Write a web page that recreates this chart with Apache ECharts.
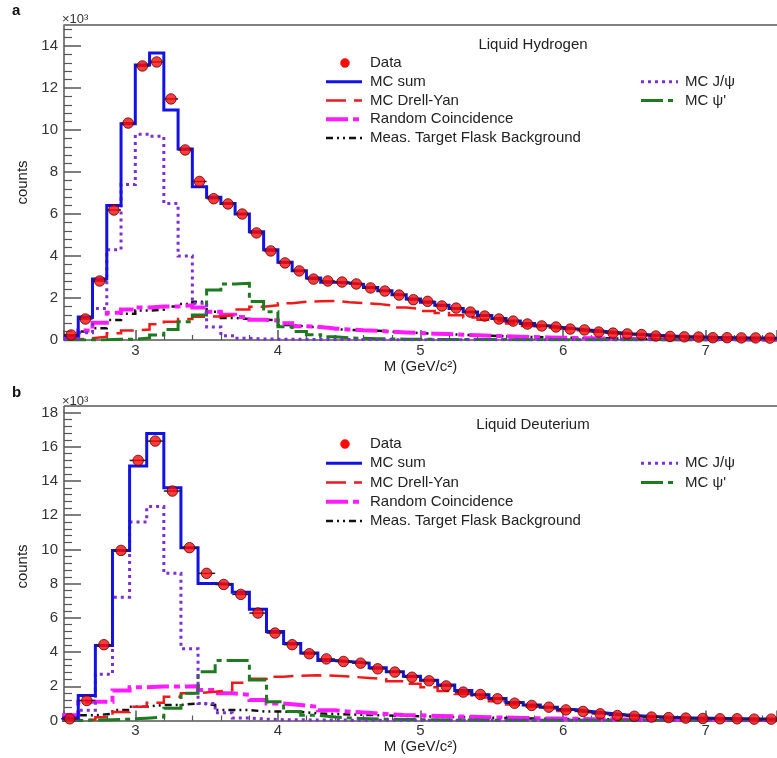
<!DOCTYPE html>
<html>
<head>
<meta charset="utf-8">
<script src="https://cdn.jsdelivr.net/npm/echarts@6/dist/echarts.min.js"></script>
<style>
  html, body { margin: 0; padding: 0; background: #fff; }
  #chart { width: 777px; height: 758px; }
</style>
</head>
<body>
<div id="chart"></div>
<script>
// Dimuon invariant-mass spectra; all counts are in units of 10^3 per bin.
const FONT = '"Liberation Sans", Arial, Helvetica, sans-serif';

// ---- Panel a: liquid hydrogen target (0.1 GeV bins starting at 2.5 GeV) ----
const binStartH = 2.5, binWidthH = 0.1;
const dataH = [0.24, 1.0, 2.81, 6.19, 10.33, 13.05, 13.24, 11.48, 9.05, 7.55,
  6.73, 6.48, 6.0, 5.1, 4.24, 3.67, 3.29, 2.9, 2.81, 2.76,
  2.67, 2.48, 2.33, 2.14, 1.92, 1.84, 1.62, 1.52, 1.33, 1.14,
  1.0, 0.9, 0.76, 0.67, 0.62, 0.52, 0.48, 0.38, 0.33, 0.29,
  0.26, 0.19, 0.17, 0.15, 0.14, 0.11, 0.11, 0.1, 0.1, 0.09];
const mcSumH = [0.2, 1.1, 2.9, 6.4, 10.3, 13.1, 13.67, 10.95, 9.1, 7.3,
  6.8, 6.5, 6.0, 5.15, 4.3, 3.7, 3.3, 2.95, 2.75, 2.72,
  2.65, 2.5, 2.35, 2.15, 1.95, 1.8, 1.65, 1.5, 1.33, 1.17,
  1.02, 0.9, 0.78, 0.68, 0.6, 0.53, 0.46, 0.4, 0.34, 0.29,
  0.25, 0.21, 0.18, 0.16, 0.14, 0.12, 0.11, 0.1, 0.09, 0.08];
const drellYanH = [0.03, 0.08, 0.16, 0.32, 0.45, 0.5, 0.75, 0.87, 1.0, 1.11,
  1.12, 1.19, 1.45, 1.58, 1.65, 1.75, 1.82, 1.85, 1.86, 1.8,
  1.76, 1.72, 1.65, 1.55, 1.48, 1.38, 1.28, 1.18, 1.07, 0.97,
  0.88, 0.78, 0.67, 0.59, 0.53, 0.46, 0.41, 0.34, 0.3, 0.26,
  0.22, 0.18, 0.16, 0.14, 0.12, 0.1, 0.1, 0.09, 0.08, 0.07];
const randomH = [0.1, 0.45, 0.82, 1.3, 1.45, 1.55, 1.59, 1.6, 1.65, 1.55,
  1.35, 1.2, 1.1, 0.97, 0.93, 0.8, 0.66, 0.62, 0.55, 0.5,
  0.46, 0.44, 0.4, 0.36, 0.33, 0.3, 0.28, 0.25, 0.23, 0.2,
  0.18, 0.16, 0.14, 0.12, 0.11, 0.09, 0.08, 0.07, 0.06, 0.05,
  0.05, 0.04, 0.03, 0.03, 0.03, 0.02, 0.02, 0.02, 0.01, 0.01];
const flaskH = [0.1, 0.4, 0.56, 0.95, 1.25, 1.4, 1.45, 1.6, 1.72, 1.82,
  1.35, 1.05, 1.0, 0.97, 0.95, 0.72, 0.64, 0.6, 0.52, 0.48,
  0.46, 0.44, 0.4, 0.36, 0.33, 0.3, 0.28, 0.25, 0.22, 0.2,
  0.18, 0.16, 0.14, 0.13, 0.11, 0.1, 0.09, 0.08, 0.07, 0.06,
  0.05, 0.05, 0.04, 0.04, 0.03, 0.03, 0.02, 0.02, 0.02, 0.02];
const jpsiH = [0.02, 0.35, 1.5, 4.3, 7.4, 9.8, 9.7, 6.5, 4.0, 1.75,
  0.62, 0.2, 0.08, 0.05, 0.04, 0.03, 0.03, 0.02, 0.02, 0.02,
  0.02, 0.02, 0.02, 0.01, 0.01, 0.01, 0.01, 0.01, 0.01, 0.01,
  0.01, 0.01, 0.01, 0.01, 0.01, 0.01, 0.01, 0.01, 0.01, 0.01,
  0.01, 0.01, 0.01, 0.01, 0.01, 0.01, 0.01, 0.01, 0.01, 0.01];
const psiPrimeH = [0, 0, 0.01, 0.03, 0.04, 0.1, 0.24, 0.5, 0.87, 1.19,
  2.38, 2.67, 2.7, 1.83, 1.35, 0.63, 0.4, 0.25, 0.15, 0.1,
  0.08, 0.06, 0.05, 0.04, 0.03, 0.03, 0.02, 0.02, 0.02, 0.02,
  0.02, 0.01, 0.01, 0.01, 0.01, 0.01, 0.01, 0.01, 0.01, 0.01,
  0.01, 0.01, 0.01, 0.01, 0.01, 0.01, 0.01, 0.01, 0.01, 0.01];

// ---- Panel b: liquid deuterium target (0.12 GeV bins starting at 2.48 GeV) ----
const binStartD = 2.48, binWidthD = 0.12;
const dataD = [0.1, 1.17, 4.43, 9.94, 15.2, 16.33, 13.41, 10.1, 8.6, 7.95,
  7.37, 6.28, 5.11, 4.43, 3.9, 3.6, 3.45, 3.35, 3.02, 2.83,
  2.53, 2.32, 2.02, 1.66, 1.52, 1.27, 1.01, 0.88, 0.78, 0.62,
  0.53, 0.39, 0.29, 0.25, 0.2, 0.17, 0.14, 0.12, 0.1, 0.1,
  0.08, 0.08];
const mcSumD = [0.15, 1.46, 4.38, 9.94, 14.87, 16.77, 13.6, 10.1, 8.0, 7.95,
  7.5, 6.5, 5.2, 4.5, 3.95, 3.5, 3.44, 3.35, 3.08, 2.85,
  2.58, 2.35, 2.08, 1.75, 1.5, 1.28, 1.05, 0.9, 0.78, 0.64,
  0.53, 0.42, 0.33, 0.27, 0.22, 0.18, 0.15, 0.13, 0.11, 0.1,
  0.09, 0.08];
const drellYanD = [0.03, 0.06, 0.19, 0.5, 0.81, 1.04, 1.39, 1.59, 1.68, 1.78,
  2.21, 2.44, 2.56, 2.62, 2.64, 2.62, 2.56, 2.48, 2.42, 2.3,
  2.15, 1.95, 1.72, 1.55, 1.35, 1.13, 0.93, 0.8, 0.69, 0.56,
  0.46, 0.37, 0.3, 0.24, 0.19, 0.16, 0.13, 0.11, 0.1, 0.09,
  0.08, 0.07];
const randomD = [0.3, 1.1, 1.1, 1.75, 1.95, 1.98, 1.98, 2.0, 1.78, 1.59,
  1.5, 1.2, 1.0, 0.91, 0.8, 0.6, 0.5, 0.45, 0.38, 0.32,
  0.3, 0.27, 0.24, 0.22, 0.19, 0.17, 0.15, 0.13, 0.11, 0.1,
  0.08, 0.07, 0.06, 0.05, 0.04, 0.04, 0.03, 0.03, 0.02, 0.02,
  0.02, 0.01];
const flaskD = [0.05, 0.3, 0.4, 0.61, 0.81, 0.91, 0.91, 1.0, 0.91, 0.61,
  0.61, 0.52, 0.52, 0.5, 0.42, 0.38, 0.35, 0.32, 0.3, 0.27,
  0.25, 0.22, 0.2, 0.18, 0.16, 0.14, 0.12, 0.11, 0.1, 0.09,
  0.08, 0.07, 0.06, 0.05, 0.05, 0.04, 0.04, 0.03, 0.03, 0.02,
  0.02, 0.02];
const jpsiD = [0.05, 0.6, 2.7, 7.2, 11.6, 12.5, 8.6, 4.2, 1.0, 0.45,
  0.15, 0.08, 0.05, 0.04, 0.03, 0.03, 0.02, 0.02, 0.02, 0.02,
  0.01, 0.01, 0.01, 0.01, 0.01, 0.01, 0.01, 0.01, 0.01, 0.01,
  0.01, 0.01, 0.01, 0.01, 0.01, 0.01, 0.01, 0.01, 0.01, 0.01,
  0.01, 0.01];
const psiPrimeD = [0, 0.02, 0.05, 0.08, 0.13, 0.2, 0.71, 1.59, 2.85, 3.5,
  3.5, 2.37, 1.1, 0.52, 0.3, 0.2, 0.14, 0.1, 0.08, 0.06,
  0.05, 0.04, 0.03, 0.03, 0.02, 0.02, 0.02, 0.01, 0.01, 0.01,
  0.01, 0.01, 0.01, 0.01, 0.01, 0.01, 0.01, 0.01, 0.01, 0.01,
  0.01, 0.01];

// Axis ranges (10^3 counts) and text
const massRange = [2.5, 7.5];
const yMaxH = 15, yMaxD = 18, yStep = 2;
const panelLabels = ['a', 'b'];
const targetNames = ['Liquid Hydrogen', 'Liquid Deuterium'];
const legendLeft = ['Data', 'MC sum', 'MC Drell-Yan', 'Random Coincidence', 'Meas. Target Flask Background'];
const legendRight = ['MC J/ψ', "MC ψ'"];

// Line styles per component
const STY = {
  sum:   { color: '#1212e6', width: 3,   dash: null },
  dy:    { color: '#f01818', width: 2.5, dash: [20, 8] },
  rnd:   { color: '#ff1aff', width: 4,   dash: [22, 5, 6, 5] },
  flask: { color: '#111111', width: 2.5, dash: [7, 4, 2, 4, 2, 4] },
  jpsi:  { color: '#7b2fd6', width: 3,   dash: [3, 4] },
  psi2:  { color: '#1e7a1e', width: 3,   dash: [22, 5, 5, 5] }
};

// Step outline of a histogram: one vertex per bin low edge plus the final high edge
function histOutline(values, start, width) {
  const pts = values.map((v, i) => [start + i * width, v]);
  pts.push([start + values.length * width, values[values.length - 1]]);
  return pts;
}
function centers(values, start, width) {
  return values.map((v, i) => [start + (i + 0.5) * width, v, width / 2]);
}

function histSeries(name, values, start, width, sty, idx, z) {
  return {
    name, type: 'line', step: 'end', xAxisIndex: idx, yAxisIndex: idx,
    data: histOutline(values, start, width),
    showSymbol: false, symbol: 'none', silent: true, animation: false, z,
    lineStyle: { color: sty.color, width: sty.width, type: sty.dash || 'solid', cap: 'butt', join: 'miter' }
  };
}
function dataSeries(values, start, width, idx) {
  const pts = centers(values, start, width);
  return [
    {
      type: 'custom', xAxisIndex: idx, yAxisIndex: idx, data: pts, z: 6, silent: true, animation: false,
      encode: { x: 0, y: 1 },
      renderItem(params, api) {
        const xc = api.value(0), y = api.value(1), hw = api.value(2);
        const a = api.coord([xc - hw, y]), b = api.coord([xc + hw, y]);
        return { type: 'line', shape: { x1: a[0], y1: a[1], x2: b[0], y2: b[1] },
                 style: { stroke: '#222', lineWidth: 1.5 } };
      }
    },
    {
      name: 'Data', type: 'scatter', xAxisIndex: idx, yAxisIndex: idx, z: 7, silent: true, animation: false,
      data: pts.map(p => [p[0], p[1]]), symbol: 'circle', symbolSize: 10.5,
      itemStyle: { color: '#ff0a0a', borderColor: '#5a0000', borderWidth: 1 }
    }
  ];
}

function panelSeries(idx, start, width, d) {
  return [
    histSeries('Meas. Target Flask Background', d.flask, start, width, STY.flask, idx, 2),
    histSeries('Random Coincidence', d.rnd, start, width, STY.rnd, idx, 2),
    histSeries('MC Drell-Yan', d.dy, start, width, STY.dy, idx, 2),
    histSeries("MC ψ'", d.psi2, start, width, STY.psi2, idx, 3),
    histSeries('MC J/ψ', d.jpsi, start, width, STY.jpsi, idx, 3),
    histSeries('MC sum', d.sum, start, width, STY.sum, idx, 4),
    ...dataSeries(d.data, start, width, idx)
  ];
}

const AX = '#555';
function xAxisFor(idx) {
  return {
    gridIndex: idx, type: 'value', min: massRange[0], max: massRange[1], splitNumber: 5,
    axisLine: { show: true, onZero: false, lineStyle: { color: AX, width: 1.5 } },
    axisTick: { show: true, inside: true, length: 10, lineStyle: { color: AX, width: 1.5 } },
    minorTick: { show: true, splitNumber: 5, length: 5, lineStyle: { color: AX, width: 1.2 } },
    splitLine: { show: false },
    axisLabel: { showMinLabel: false, showMaxLabel: false, margin: 3, fontSize: 15, color: '#333', fontFamily: FONT },
    name: 'M (GeV/c²)', nameLocation: 'middle', nameGap: 17,
    nameTextStyle: { fontSize: 15, color: '#222', fontFamily: FONT }
  };
}
function yAxisFor(idx, max) {
  return {
    gridIndex: idx, type: 'value', min: 0, max, interval: yStep,
    axisLine: { show: true, onZero: false, lineStyle: { color: AX, width: 1.5 } },
    axisTick: { show: true, inside: true, length: 17, lineStyle: { color: AX, width: 1.5 } },
    minorTick: { show: true, splitNumber: 5, length: 8, lineStyle: { color: AX, width: 1.2 } },
    splitLine: { show: false },
    // the top of the range only gets a label when it falls on a major step
    axisLabel: { margin: 6, fontSize: 15, color: '#333', fontFamily: FONT, showMaxLabel: max % yStep === 0 },
    name: 'counts', nameLocation: 'middle', nameGap: 33,
    nameTextStyle: { fontSize: 15, color: '#222', fontFamily: FONT }
  };
}

// Frame tops, panel letters, exponent marks and the hand-placed legends
function panelDecor(p) {
  const g = [];
  g.push({ type: 'line', shape: { x1: 64, y1: p.frameTop, x2: 777, y2: p.frameTop },
           style: { stroke: '#808080', lineWidth: 2 }, z: 10 });
  if (p.axisExt) {
    g.push({ type: 'line', shape: { x1: 64, y1: p.frameTop, x2: 64, y2: p.axisExt },
             style: { stroke: AX, lineWidth: 1.5 }, z: 10 });
  }
  g.push({ type: 'text', x: 12, y: p.letterY, z: 10,
           style: { text: p.letter, font: 'bold 15px ' + FONT, fill: '#111', verticalAlign: 'middle' } });
  g.push({ type: 'text', x: 62, y: p.expY, z: 10,
           style: { text: '×10³', font: '13px ' + FONT, fill: '#333', verticalAlign: 'middle' } });
  g.push({ type: 'text', x: 533, y: p.headerY, z: 10,
           style: { text: p.header, font: '15px ' + FONT, fill: '#222', align: 'center', verticalAlign: 'middle' } });

  const leftStyles = [null, STY.sum, STY.dy, STY.rnd, STY.flask];
  legendLeft.forEach((label, k) => {
    const y = p.row0 + k * p.rowStep;
    if (k === 0) {
      g.push({ type: 'circle', shape: { cx: 345, cy: y, r: 4.5 }, z: 10,
               style: { fill: '#ff0a0a', stroke: '#ff0a0a', lineWidth: 0.5 } });
    } else {
      const s = leftStyles[k];
      g.push({ type: 'line', shape: { x1: 326, y1: y, x2: 362, y2: y }, z: 10,
               style: { stroke: s.color, lineWidth: s.width, lineDash: s.dash || null, lineCap: 'butt' } });
    }
    g.push({ type: 'text', x: 370, y, z: 10,
             style: { text: label, font: '15px ' + FONT, fill: '#222', verticalAlign: 'middle' } });
  });
  const rightStyles = [STY.jpsi, STY.psi2];
  legendRight.forEach((label, k) => {
    const y = p.row0 + (k + 1) * p.rowStep;
    const s = rightStyles[k];
    g.push({ type: 'line', shape: { x1: 641, y1: y, x2: 678, y2: y }, z: 10,
             style: { stroke: s.color, lineWidth: s.width, lineDash: s.dash, lineCap: 'butt' } });
    g.push({ type: 'text', x: 685, y, z: 10,
             style: { text: label, font: '15px ' + FONT, fill: '#222', verticalAlign: 'middle' } });
  });
  return g;
}

const chart = echarts.init(document.getElementById('chart'), null, { renderer: 'canvas' });
chart.setOption({
  backgroundColor: '#ffffff',
  animation: false,
  grid: [
    { left: 64, top: 25, width: 715, height: 315, show: false },
    { left: 64, top: 412.5, width: 715, height: 308, show: false }
  ],
  xAxis: [xAxisFor(0), xAxisFor(1)],
  yAxis: [yAxisFor(0, yMaxH), yAxisFor(1, yMaxD)],
  series: [
    ...panelSeries(0, binStartH, binWidthH, {
      data: dataH, sum: mcSumH, dy: drellYanH, rnd: randomH, flask: flaskH, jpsi: jpsiH, psi2: psiPrimeH }),
    ...panelSeries(1, binStartD, binWidthD, {
      data: dataD, sum: mcSumD, dy: drellYanD, rnd: randomD, flask: flaskD, jpsi: jpsiD, psi2: psiPrimeD })
  ],
  graphic: [
    ...panelDecor({ frameTop: 25, axisExt: null, letter: panelLabels[0], letterY: 11, expY: 19,
                    header: targetNames[0], headerY: 45, row0: 63, rowStep: 18.75 }),
    ...panelDecor({ frameTop: 406, axisExt: 412.5, letter: panelLabels[1], letterY: 393, expY: 401,
                    header: targetNames[1], headerY: 425, row0: 444, rowStep: 19.25 })
  ]
});
</script>
</body>
</html>
